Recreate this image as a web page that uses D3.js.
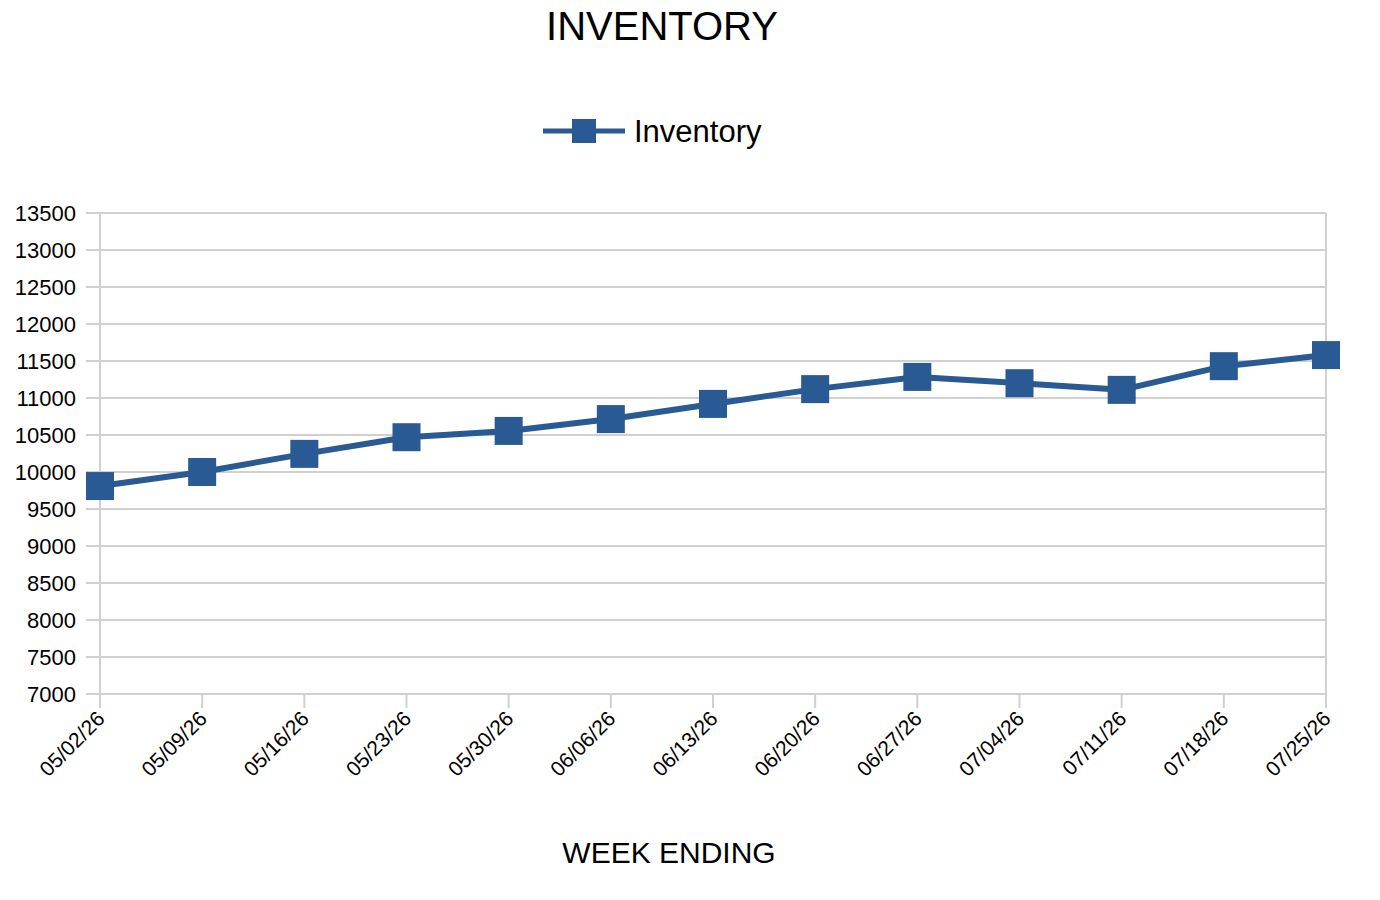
<!DOCTYPE html>
<html><head><meta charset="utf-8">
<script src="https://cdn.jsdelivr.net/npm/d3@7"></script>
<style>body{margin:0;background:#fff;font-family:"Liberation Sans",Arial,sans-serif}</style>
</head><body>
<script>
const weeks = ["05/02/26","05/09/26","05/16/26","05/23/26","05/30/26","06/06/26","06/13/26","06/20/26","06/27/26","07/04/26","07/11/26","07/18/26","07/25/26"];
const inventory = [9810,10000,10245,10470,10555,10715,10920,11120,11285,11200,11110,11430,11580];
const yTicks = d3.range(7000, 13501, 500);

const width = 1380, height = 900;
const marginLeft = 100, marginRight = 54, marginTop = 213, marginBottom = 206;
const color = "#2a5a94";

const svg = d3.select("body").append("svg").attr("width", width).attr("height", height);

const x = d3.scalePoint().domain(weeks).range([marginLeft, width - marginRight]);
const y = d3.scaleLinear().domain([7000, 13500]).range([height - marginBottom, marginTop]);

svg.append("text").attr("x", 662).attr("y", 40).attr("text-anchor", "middle")
  .attr("font-size", 40).text("INVENTORY");

// legend
svg.append("line").attr("x1", 543).attr("x2", 625).attr("y1", 131).attr("y2", 131)
  .attr("stroke", color).attr("stroke-width", 5);
svg.append("rect").attr("x", 572).attr("y", 119).attr("width", 24).attr("height", 24).attr("fill", color);
svg.append("text").attr("x", 634).attr("y", 142).attr("font-size", 31).text("Inventory");

// grid
svg.append("g").selectAll("line").data(yTicks).join("line")
  .attr("x1", marginLeft).attr("x2", width - marginRight)
  .attr("y1", d => y(d)).attr("y2", d => y(d))
  .attr("stroke", "#d0d0d0").attr("stroke-width", 2);
svg.append("line").attr("x1", width - marginRight).attr("x2", width - marginRight)
  .attr("y1", y(13500)).attr("y2", y(7000)).attr("stroke", "#d0d0d0").attr("stroke-width", 2);
svg.append("line").attr("x1", marginLeft).attr("x2", marginLeft)
  .attr("y1", y(13500)).attr("y2", y(7000)).attr("stroke", "#d0d0d0").attr("stroke-width", 2);

// y labels
svg.append("g").selectAll("text").data(yTicks).join("text")
  .attr("x", 76).attr("y", d => y(d) + 8).attr("text-anchor", "end")
  .attr("font-size", 22).text(d => d);
svg.append("g").selectAll("line").data(yTicks).join("line")
  .attr("x1", 86).attr("x2", marginLeft).attr("y1", d => y(d)).attr("y2", d => y(d))
  .attr("stroke", "#d0d0d0").attr("stroke-width", 2);

// x ticks and labels
svg.append("g").selectAll("line").data(weeks).join("line")
  .attr("x1", d => x(d)).attr("x2", d => x(d))
  .attr("y1", y(7000)).attr("y2", y(7000) + 14).attr("stroke", "#d0d0d0").attr("stroke-width", 2);
svg.append("g").selectAll("text").data(weeks).join("text")
  .attr("transform", d => `translate(${x(d) + 6},${y(7000) + 26}) rotate(-45)`)
  .attr("text-anchor", "end").attr("font-size", 21).text(d => d);

svg.append("text").attr("x", 669).attr("y", 863).attr("text-anchor", "middle")
  .attr("font-size", 30).text("WEEK ENDING");

// line
svg.append("path").datum(inventory)
  .attr("fill", "none").attr("stroke", color).attr("stroke-width", 6).attr("stroke-linejoin", "round")
  .attr("d", d3.line().x((d, i) => x(weeks[i])).y(d => y(d)));
svg.append("g").selectAll("rect").data(inventory).join("rect")
  .attr("x", (d, i) => x(weeks[i]) - 14).attr("y", d => y(d) - 14)
  .attr("width", 28).attr("height", 28).attr("fill", color);
</script>
</body></html>
